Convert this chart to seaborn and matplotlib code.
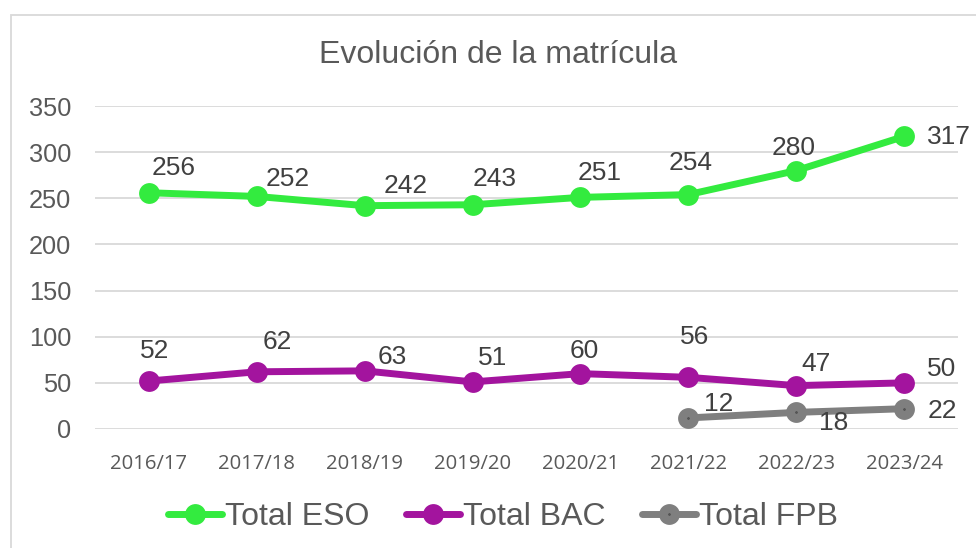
import matplotlib
matplotlib.use("Agg")
import matplotlib.pyplot as plt
import matplotlib.patches as mpatches
import numpy as np
import pandas as pd
import seaborn as sns

# ---- data ----
years = ["2016/17", "2017/18", "2018/19", "2019/20", "2020/21", "2021/22", "2022/23", "2023/24"]
eso = [256, 252, 242, 243, 251, 254, 280, 317]
bac = [52, 62, 63, 51, 60, 56, 47, 50]
fpb = [np.nan, np.nan, np.nan, np.nan, np.nan, 12, 18, 22]
series_names = ["Total ESO", "Total BAC", "Total FPB"]
title = "Evolución de la matrícula"
yticks = [0, 50, 100, 150, 200, 250, 300, 350]

# ---- styles / label offsets (pixels) ----
colors = ["#33EB3F", "#A3149E", "#7F7F7F"]
off_eso = [(25, 25), (31, 17), (41, 20), (22, 26), (19, 24), (2, 32), (-3, 23), (45, -1)]
off_bac = [(6, 30), (20, 30), (28, 14), (20, 24), (4, 23), (6, 40), (20, 22), (38, 14)]
off_fpb = [None, None, None, None, None, (30, 14), (37, -11), (38, -2)]

sns.set_theme(style="white")
plt.rcParams["font.family"] = ["Liberation Sans", "DejaVu Sans"]

fig = plt.figure(figsize=(9.76, 5.48), dpi=100)
ax = fig.add_axes([95 / 976, 1 - 429 / 548, (958 - 95) / 976, (429 - 106) / 548])

df = pd.DataFrame({"year": years, "ESO": eso, "BAC": bac, "FPB": fpb})

lw = 5.0
ms = 15
sns.lineplot(data=df, x="year", y="ESO", ax=ax, color=colors[0], lw=lw, marker="o",
             markersize=ms, markeredgewidth=0, sort=False, label=series_names[0], zorder=3)
sns.lineplot(data=df, x="year", y="BAC", ax=ax, color=colors[1], lw=lw, marker="o",
             markersize=ms, markeredgewidth=0, sort=False, label=series_names[1], zorder=3)
df_f = df.dropna(subset=["FPB"])
sns.lineplot(data=df_f, x="year", y="FPB", ax=ax, color=colors[2], lw=lw, marker="o",
             markersize=8.6, markeredgewidth=6.4, markeredgecolor=colors[2],
             markerfacecolor="#555555", sort=False, label=series_names[2], zorder=3)

ax.set_xlim(-0.5, 7.5)
ax.set_ylim(0, 350)
ax.set_xticks(range(len(years)))
ax.set_xticklabels(years, family=["Open Sans", "DejaVu Sans"], fontsize=14.6, color="#595959")
ax.set_yticks(yticks)
ax.set_yticklabels([str(v) for v in yticks], fontsize=18.3, color="#595959")
ax.tick_params(axis="x", length=0, pad=18)
ax.tick_params(axis="y", length=0, pad=17)
ax.set_xlabel("")
ax.set_ylabel("")
for s in ax.spines.values():
    s.set_visible(False)
ax.yaxis.grid(True, color="#D9D9D9", lw=1.3)
ax.xaxis.grid(False)
ax.set_axisbelow(True)

# data labels
for vals, offs in [(eso, off_eso), (bac, off_bac), (fpb, off_fpb)]:
    for i, (v, o) in enumerate(zip(vals, offs)):
        if o is None or np.isnan(v):
            continue
        ax.annotate(str(int(v)), (i, v), xytext=o, textcoords="offset pixels",
                    ha="center", va="center", fontsize=19, color="#404040", zorder=5)

# title
fig.text(498.5 / 976, 1 - 55 / 548, title, ha="center", va="center", fontsize=23, color="#595959")

# legend
handles, labels = ax.get_legend_handles_labels()
ax.get_legend().remove()
leg = fig.legend(handles, labels, loc="center", bbox_to_anchor=(503 / 976, 1 - 517 / 548),
                 ncol=3, frameon=False, fontsize=23, handlelength=1.7, handletextpad=0.08,
                 columnspacing=1.15, labelcolor="#595959")

# chart border
rect = mpatches.Rectangle((11 / 976, -0.1), 1.2, 1 - 15 / 548 + 0.1, transform=fig.transFigure,
                          fill=False, edgecolor="#D9D9D9", lw=1.3, clip_on=False)
fig.patches.append(rect)

fig.savefig("out.png", dpi=100)
